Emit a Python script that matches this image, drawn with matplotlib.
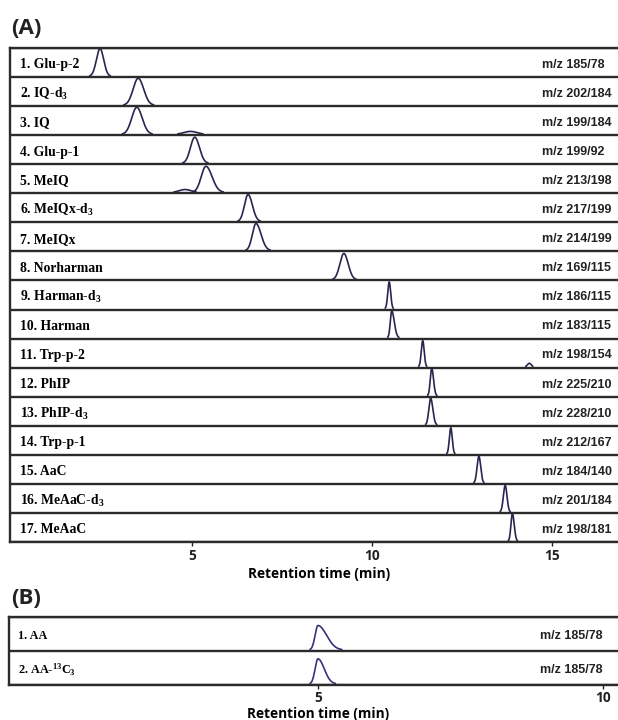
import numpy as np
import matplotlib
matplotlib.use("Agg")
import matplotlib.pyplot as plt
from matplotlib.transforms import blended_transform_factory

plt.rcParams['mathtext.fontset'] = 'custom'
plt.rcParams['mathtext.rm'] = 'Liberation Serif:bold'
plt.rcParams['mathtext.it'] = 'Liberation Serif:bold'
plt.rcParams['mathtext.bf'] = 'Liberation Serif:bold'
plt.rcParams['mathtext.default'] = 'rm'

# ---------------- data: panel A ----------------
compounds_a = ["1. Glu-p-2", "2. IQ-d$_3$", "3. IQ", "4. Glu-p-1", "5. MeIQ",
               "6. MeIQx-d$_3$", "7. MeIQx", "8. Norharman", "9. Harman-d$_3$",
               "10. Harman", "11. Trp-p-2", "12. PhIP", "13. PhIP-d$_3$",
               "14. Trp-p-1", "15. AaC", "16. MeAaC-d$_3$", "17. MeAaC"]
mz_a = ["m/z 185/78", "m/z 202/184", "m/z 199/184", "m/z 199/92", "m/z 213/198",
        "m/z 217/199", "m/z 214/199", "m/z 169/115", "m/z 186/115", "m/z 183/115",
        "m/z 198/154", "m/z 225/210", "m/z 228/210", "m/z 212/167", "m/z 184/140",
        "m/z 201/184", "m/z 198/181"]
rt_a = [2.44, 3.50, 3.46, 5.07, 5.38, 6.55, 6.77, 9.21, 10.47, 10.54,
        11.40, 11.65, 11.62, 12.18, 12.96, 13.69, 13.89]
sigma_left_a = [0.10, 0.14, 0.14, 0.12, 0.13, 0.10, 0.10, 0.11, 0.04, 0.04,
                0.04, 0.04, 0.05, 0.04, 0.05, 0.05, 0.04]
sigma_right_a = [0.10, 0.15, 0.15, 0.13, 0.17, 0.12, 0.14, 0.12, 0.04, 0.07,
                 0.04, 0.05, 0.06, 0.04, 0.05, 0.05, 0.05]
height_a = [0.95, 0.93, 0.93, 0.90, 0.90, 0.93, 0.93, 0.90, 0.92, 0.92,
            0.90, 0.95, 0.92, 0.90, 0.92, 0.92, 0.95]
# minor signals: row index, retention time, sigma, height
minor_row = [2, 4, 10]
minor_rt = [4.95, 4.80, 14.36]
minor_sigma = [0.18, 0.16, 0.05]
minor_height = [0.10, 0.10, 0.12]
ticks_a = [5, 10, 15]

# ---------------- data: panel B ----------------
compounds_b = ["1. AA", "2. AA-$^{13}$C$_3$"]
mz_b = ["m/z 185/78", "m/z 185/78"]
rt_b = [5.00, 5.00]
sigma_left_b = [0.05, 0.05]
sigma_right_b = [0.15, 0.11]
height_b = [0.72, 0.74]
ticks_b = [5, 10]

line_col = '#2b2b2b'
peak_col = '#262650'
bold_sans = 'Open Sans'


def peak(t, rt, sl, sr, h):
    s = np.where(t < rt, sl, sr)
    return h * np.exp(-0.5 * ((t - rt) / s) ** 2)


def draw_trace(ax, t, y, base, col):
    y = np.where(y > 0.015, y, np.nan)
    ax.plot(t, base + 0.03 + y, color=col, lw=1.2, solid_capstyle='round')


fig = plt.figure(figsize=(6.18, 7.2), dpi=100)

# ---------------- panel A ----------------
axA = fig.add_axes([10 / 618, 1 - 542 / 720, 618 / 618, (542 - 48) / 720])
n = len(compounds_a)
axA.set_xlim(-0.06, 17.1)
axA.set_ylim(0, n)
t = np.linspace(-0.06, 17.1, 6000)
for i in range(n):
    base = n - 1 - i
    sig = peak(t, rt_a[i], sigma_left_a[i], sigma_right_a[i], height_a[i])
    draw_trace(axA, t, sig, base, peak_col)
for r, m_rt, m_s, m_h in zip(minor_row, minor_rt, minor_sigma, minor_height):
    base = n - 1 - r
    sig = peak(t, m_rt, m_s, m_s, m_h)
    draw_trace(axA, t, sig, base, peak_col)
for k in range(n + 1):
    axA.axhline(k, color=line_col, lw=1.7, zorder=3)
for sp in axA.spines.values():
    sp.set_linewidth(1.7)
    sp.set_color(line_col)
axA.spines['right'].set_visible(False)
trA = blended_transform_factory(axA.transAxes, axA.transData)
for i in range(n):
    yc = n - 1 - i + 0.42
    axA.text(0.0165, yc, compounds_a[i], transform=trA, family='Liberation Serif',
             weight='bold', fontsize=9.8, va='center', ha='left')
    axA.text(0.861, yc, mz_a[i], transform=trA, family='Liberation Sans',
             weight='bold', fontsize=9.0, va='center', ha='left', color='#222222')
axA.set_yticks([])
axA.set_xticks(ticks_a)
axA.set_xticklabels([str(v) for v in ticks_a], family=bold_sans, weight='bold', fontsize=9.8)
axA.tick_params(axis='x', direction='out', length=3, width=1, pad=2, colors='#222222')
axA.set_xlabel('Retention time (min)', family=bold_sans, weight='bold', fontsize=9.8, labelpad=3)

# ---------------- panel B ----------------
axB = fig.add_axes([9 / 618, 1 - 685 / 720, 619 / 618, (685 - 617) / 720])
nb = len(compounds_b)
axB.set_xlim(-0.42, 10.44)
axB.set_ylim(0, nb)
tb = np.linspace(-0.42, 10.44, 5000)
for i in range(nb):
    base = nb - 1 - i
    sig = peak(tb, rt_b[i], sigma_left_b[i], sigma_right_b[i], height_b[i])
    draw_trace(axB, tb, sig, base, '#34347a')
for k in range(nb + 1):
    axB.axhline(k, color=line_col, lw=1.7, zorder=3)
for sp in axB.spines.values():
    sp.set_linewidth(1.7)
    sp.set_color(line_col)
axB.spines['right'].set_visible(False)
trB = blended_transform_factory(axB.transAxes, axB.transData)
for i in range(nb):
    yc = nb - 1 - i + 0.45
    axB.text(0.0145, yc, compounds_b[i], transform=trB, family='Liberation Serif',
             weight='bold', fontsize=8.8, va='center', ha='left')
    axB.text(0.858, yc, mz_b[i], transform=trB, family='Liberation Sans',
             weight='bold', fontsize=9.0, va='center', ha='left', color='#222222')
axB.set_yticks([])
axB.set_xticks(ticks_b)
axB.set_xticklabels([str(v) for v in ticks_b], family=bold_sans, weight='bold', fontsize=9.8)
axB.tick_params(axis='x', direction='out', length=3, width=1, pad=1, colors='#222222')
axB.set_xlabel('Retention time (min)', family=bold_sans, weight='bold', fontsize=9.8, labelpad=2)

fig.text(11 / 618, 1 - 29 / 720, '(A)', family=bold_sans, weight='bold', fontsize=16,
         va='center', ha='left', color='#222222')
fig.text(11 / 618, 1 - 598 / 720, '(B)', family=bold_sans, weight='bold', fontsize=16,
         va='center', ha='left', color='#222222')

fig.savefig('out.png', dpi=100)
